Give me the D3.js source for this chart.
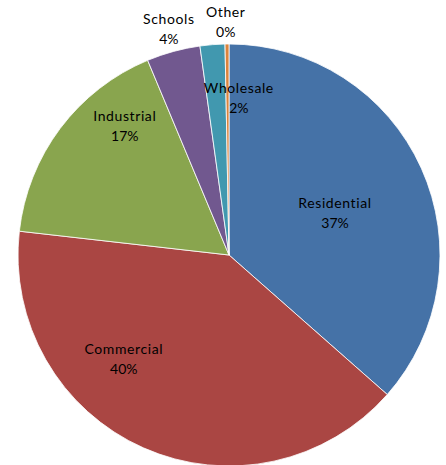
<!DOCTYPE html>
<html>
<head>
<meta charset="utf-8" />
<script src="https://d3js.org/d3.v7.min.js"></script>
<style>
html, body {
	margin: 0;
	background: #fff;
}
text {
	font-family: Lato, "Open Sans", sans-serif;
	font-size: 14px;
	fill: #000;
}
</style>
</head>
<body>
<svg id="chart" width="446" height="465"></svg>
<script>

// shares (percent)
var categories = ["Residential", "Commercial", "Industrial", "Schools", "Wholesale", "Other"];
var values = [36.5, 40.3, 16.9, 4.1, 1.9, 0.3];
var labels = ["37%", "40%", "17%", "4%", "2%", "0%"];
var colors = ["#4572A7", "#AA4643", "#89A54E", "#71588F", "#4198AF", "#DB843D"];

// where each label sits: angle (deg, clockwise from top), distance from centre
var labelAngle = [68.4, 225.3, 321.1, 345.1, 3.6, 359.2];
var labelDist = [114, 148, 166, 234, 157, 233];

var cx = 229, cy = 255, r = 211;

var svg = d3.select("#chart");
var g = svg.append("g").attr("transform", "translate(" + cx + "," + cy + ")");

var pie = d3.pie().sort(null).value(function(d) { return d; });
var arc = d3.arc().innerRadius(0).outerRadius(r);

g.selectAll("path")
	.data(pie(values))
  .enter().append("path")
	.attr("d", arc)
	.attr("fill", function(d, i) { return colors[i]; })
	.attr("stroke", "#fff")
	.attr("stroke-width", 0.8);

var lab = g.selectAll("g.lab")
	.data(categories)
  .enter().append("g")
	.attr("class", "lab")
	.attr("transform", function(d, i) {
		var a = labelAngle[i] * Math.PI / 180;
		return "translate(" + (labelDist[i] * Math.sin(a)) + "," + (-labelDist[i] * Math.cos(a)) + ")";
	});

lab.append("text")
	.attr("text-anchor", "middle")
	.attr("y", -5)
	.style("letter-spacing", "0.6px")
	.text(function(d) { return d; });

lab.append("text")
	.attr("text-anchor", "middle")
	.attr("y", 15)
	.text(function(d, i) { return labels[i]; });

</script>
</body>
</html>
